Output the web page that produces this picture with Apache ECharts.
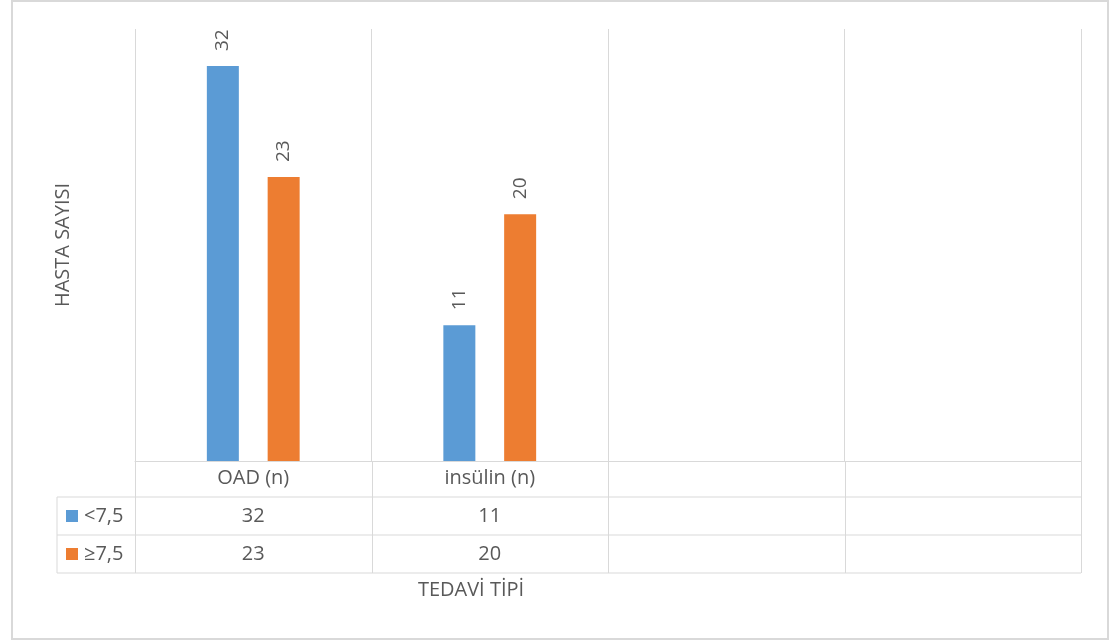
<!DOCTYPE html>
<html>
<head>
<meta charset="utf-8">
<script src="https://cdn.jsdelivr.net/npm/echarts@6/dist/echarts.min.js"></script>
<style>
  html, body { margin: 0; padding: 0; background: #fff; }
  #chart { width: 1116px; height: 644px; }
</style>
</head>
<body>
<div id="chart"></div>
<script>
// Treatment types and patient counts by HbA1c group
const categories = ['OAD (n)', 'insülin (n)', '', ''];
const seriesNames = ['<7,5', '≥7,5'];
const lowGroup = [32, 11, null, null];
const highGroup = [23, 20, null, null];
const yAxisTitle = 'HASTA SAYISI';
const xAxisTitle = 'TEDAVİ TİPİ';

const colors = ['#5B9BD5', '#ED7D31'];
const textColor = '#595959';
const lineColor = '#D9D9D9';
const fontFamily = '"Open Sans", "Noto Sans", sans-serif';

// plot area geometry
const plotLeft = 135, plotRight = 1081, plotTop = 29, plotBottom = 461;
const tableLeft = 57;
const rowBottoms = [497, 535, 573];

const chart = echarts.init(document.getElementById('chart'), null, { renderer: 'canvas' });

const seriesData = [lowGroup, highGroup];

function buildGraphic() {
  const g = [];
  // outer chart frame
  g.push({ type: 'rect', shape: { x: 12, y: 1, width: 1096, height: 638 },
    style: { fill: 'none', stroke: lineColor, lineWidth: 2 }, silent: true });
  const line = (x1, y1, x2, y2) => g.push({ type: 'line', shape: { x1, y1, x2, y2 },
    style: { stroke: lineColor, lineWidth: 1 }, silent: true });
  // table horizontal rules
  rowBottoms.forEach(y => line(tableLeft, y, plotRight, y));
  // table vertical rules below the plot
  line(tableLeft, rowBottoms[0], tableLeft, rowBottoms[2]);
  const band = (plotRight - plotLeft) / categories.length;
  for (let i = 0; i <= categories.length; i++) {
    const x = Math.round(plotLeft + band * i) + 0.5;
    line(x, plotBottom, x, rowBottoms[2]);
  }
  // series rows: legend key, name and values
  seriesNames.forEach((name, s) => {
    const yc = (rowBottoms[s] + rowBottoms[s + 1]) / 2;
    g.push({ type: 'rect', shape: { x: 66, y: yc - 6, width: 12, height: 12 },
      style: { fill: colors[s] }, silent: true });
    g.push({ type: 'text', x: 84, y: yc, style: { text: name, fill: textColor,
      font: '20px ' + fontFamily, textAlign: 'left', textVerticalAlign: 'middle' }, silent: true });
    seriesData[s].forEach((v, i) => {
      if (v == null) return;
      const xc = chart.convertToPixel({ xAxisIndex: 0 }, i);
      g.push({ type: 'text', x: xc, y: yc, style: { text: String(v), fill: textColor,
        font: '20px ' + fontFamily, textAlign: 'center', textVerticalAlign: 'middle' }, silent: true });
    });
  });
  // category axis title
  g.push({ type: 'text', x: 471, y: 590, style: { text: xAxisTitle, fill: textColor,
    font: '20px ' + fontFamily, textAlign: 'center', textVerticalAlign: 'middle' }, silent: true });
  return g;
}

const labelStyle = {
  show: true, position: 'top', rotate: 90, distance: 15,
  align: 'left', verticalAlign: 'middle',
  color: textColor, fontSize: 19, fontFamily: fontFamily
};

chart.setOption({
  animation: false,
  backgroundColor: '#fff',
  grid: { left: plotLeft, right: 1116 - plotRight, top: plotTop, bottom: 644 - plotBottom, containLabel: false },
  xAxis: {
    type: 'category',
    data: categories,
    axisTick: { show: false },
    axisLine: { show: true, lineStyle: { color: lineColor, width: 1 } },
    axisLabel: { color: textColor, fontSize: 20, fontFamily: fontFamily, margin: 7, interval: 0 },
    splitLine: { show: true, interval: 0, lineStyle: { color: lineColor, width: 1 } }
  },
  yAxis: {
    type: 'value',
    min: 0, max: 35,
    axisLabel: { show: false },
    axisLine: { show: false },
    axisTick: { show: false },
    splitLine: { show: false },
    name: yAxisTitle,
    nameLocation: 'middle',
    nameGap: 62,
    nameTextStyle: { color: textColor, fontSize: 20, fontFamily: fontFamily }
  },
  series: seriesNames.map((name, s) => ({
    name: name,
    type: 'bar',
    data: seriesData[s],
    barWidth: 32,
    barGap: '90%',
    itemStyle: { color: colors[s] },
    label: labelStyle
  }))
});

chart.setOption({ graphic: buildGraphic() });
</script>
</body>
</html>
